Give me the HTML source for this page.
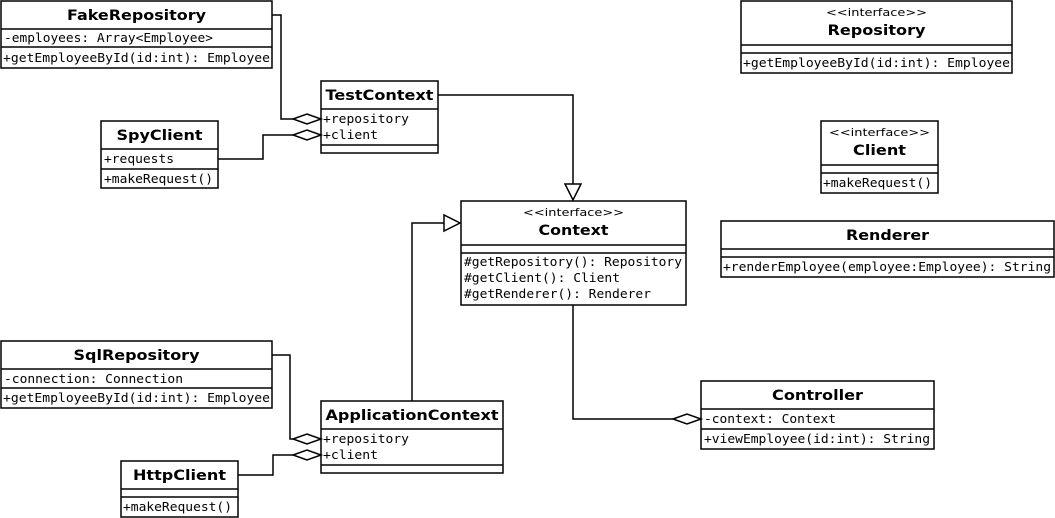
<!DOCTYPE html>
<html><head><meta charset="utf-8"><style>
html,body{margin:0;padding:0;background:#fff;}
svg{display:block}
.t{font-family:"DejaVu Sans","Liberation Sans",sans-serif;font-weight:bold;font-size:14px;text-anchor:middle}
.s{font-family:"DejaVu Sans","Liberation Sans",sans-serif;font-size:11px;text-anchor:middle}
.m{font-family:"DejaVu Sans Mono","Liberation Mono",monospace;font-size:12.5px}
rect,line,path,polyline{stroke:#000;stroke-width:1.5;fill:none}
</style></head><body>
<svg width="1055" height="518" viewBox="0 0 1055 518">
<rect x="0" y="0" width="1055" height="518" style="fill:#fff;stroke:none"/>
<!-- FakeRepository -->
<rect x="1" y="1" width="271" height="67"/><line x1="1" y1="29" x2="272" y2="29"/><line x1="1" y1="47" x2="272" y2="47"/>
<text class="t" x="136.5" y="20" textLength="139" lengthAdjust="spacingAndGlyphs">FakeRepository</text>
<text class="m" x="4" y="42" textLength="209" lengthAdjust="spacingAndGlyphs">-employees: Array&lt;Employee&gt;</text>
<text class="m" x="3" y="62" textLength="267" lengthAdjust="spacingAndGlyphs">+getEmployeeById(id:int): Employee</text>
<!-- TestContext -->
<rect x="321" y="81" width="117" height="72"/><line x1="321" y1="109" x2="438" y2="109"/><line x1="321" y1="145" x2="438" y2="145"/>
<text class="t" x="379.5" y="100" textLength="108" lengthAdjust="spacingAndGlyphs">TestContext</text>
<text class="m" x="323" y="123" textLength="86" lengthAdjust="spacingAndGlyphs">+repository</text>
<text class="m" x="323" y="139" textLength="55" lengthAdjust="spacingAndGlyphs">+client</text>
<!-- SpyClient -->
<rect x="101" y="121" width="117" height="67"/><line x1="101" y1="149" x2="218" y2="149"/><line x1="101" y1="169" x2="218" y2="169"/>
<text class="t" x="159.5" y="140" textLength="86" lengthAdjust="spacingAndGlyphs">SpyClient</text>
<text class="m" x="104" y="163" textLength="70" lengthAdjust="spacingAndGlyphs">+requests</text>
<text class="m" x="104" y="183" textLength="109" lengthAdjust="spacingAndGlyphs">+makeRequest()</text>
<!-- Repository -->
<rect x="741" y="1" width="271" height="72"/><line x1="741" y1="45" x2="1012" y2="45"/><line x1="741" y1="53" x2="1012" y2="53"/>
<text class="s" x="876.5" y="16" textLength="101" lengthAdjust="spacingAndGlyphs">&lt;&lt;interface&gt;&gt;</text>
<text class="t" x="876.5" y="35" textLength="98" lengthAdjust="spacingAndGlyphs">Repository</text>
<text class="m" x="743" y="67" textLength="267" lengthAdjust="spacingAndGlyphs">+getEmployeeById(id:int): Employee</text>
<!-- Client -->
<rect x="821" y="121" width="117" height="72"/><line x1="821" y1="165" x2="938" y2="165"/><line x1="821" y1="173" x2="938" y2="173"/>
<text class="s" x="879.5" y="136" textLength="101" lengthAdjust="spacingAndGlyphs">&lt;&lt;interface&gt;&gt;</text>
<text class="t" x="879.5" y="155" textLength="53" lengthAdjust="spacingAndGlyphs">Client</text>
<text class="m" x="823" y="187" textLength="109" lengthAdjust="spacingAndGlyphs">+makeRequest()</text>
<!-- Context -->
<rect x="461" y="201" width="225" height="104"/><line x1="461" y1="245" x2="686" y2="245"/><line x1="461" y1="253" x2="686" y2="253"/>
<text class="s" x="573.5" y="216" textLength="101" lengthAdjust="spacingAndGlyphs">&lt;&lt;interface&gt;&gt;</text>
<text class="t" x="573.5" y="235" textLength="70" lengthAdjust="spacingAndGlyphs">Context</text>
<text class="m" x="464" y="266" textLength="218" lengthAdjust="spacingAndGlyphs">#getRepository(): Repository</text>
<text class="m" x="464" y="282" textLength="156" lengthAdjust="spacingAndGlyphs">#getClient(): Client</text>
<text class="m" x="464" y="298" textLength="187" lengthAdjust="spacingAndGlyphs">#getRenderer(): Renderer</text>
<!-- Renderer -->
<rect x="721" y="221" width="333" height="56"/><line x1="721" y1="249" x2="1054" y2="249"/><line x1="721" y1="257" x2="1054" y2="257"/>
<text class="t" x="887.5" y="240" textLength="83" lengthAdjust="spacingAndGlyphs">Renderer</text>
<text class="m" x="723" y="271" textLength="328" lengthAdjust="spacingAndGlyphs">+renderEmployee(employee:Employee): String</text>
<!-- SqlRepository -->
<rect x="1" y="341" width="271" height="67"/><line x1="1" y1="369" x2="272" y2="369"/><line x1="1" y1="388" x2="272" y2="388"/>
<text class="t" x="136.5" y="360" textLength="126" lengthAdjust="spacingAndGlyphs">SqlRepository</text>
<text class="m" x="4" y="383" textLength="179" lengthAdjust="spacingAndGlyphs">-connection: Connection</text>
<text class="m" x="3" y="402" textLength="267" lengthAdjust="spacingAndGlyphs">+getEmployeeById(id:int): Employee</text>
<!-- ApplicationContext -->
<rect x="321" y="401" width="182" height="72"/><line x1="321" y1="429" x2="503" y2="429"/><line x1="321" y1="465" x2="503" y2="465"/>
<text class="t" x="412" y="420" textLength="173" lengthAdjust="spacingAndGlyphs">ApplicationContext</text>
<text class="m" x="323" y="443" textLength="86" lengthAdjust="spacingAndGlyphs">+repository</text>
<text class="m" x="323" y="459" textLength="55" lengthAdjust="spacingAndGlyphs">+client</text>
<!-- HttpClient -->
<rect x="121" y="461" width="117" height="56"/><line x1="121" y1="489" x2="238" y2="489"/><line x1="121" y1="497" x2="238" y2="497"/>
<text class="t" x="179.5" y="480" textLength="93" lengthAdjust="spacingAndGlyphs">HttpClient</text>
<text class="m" x="123" y="511" textLength="109" lengthAdjust="spacingAndGlyphs">+makeRequest()</text>
<!-- Controller -->
<rect x="701" y="381" width="233" height="68"/><line x1="701" y1="409" x2="934" y2="409"/><line x1="701" y1="429" x2="934" y2="429"/>
<text class="t" x="817.5" y="400" textLength="91" lengthAdjust="spacingAndGlyphs">Controller</text>
<text class="m" x="704" y="423" textLength="132" lengthAdjust="spacingAndGlyphs">-context: Context</text>
<text class="m" x="704" y="443" textLength="226" lengthAdjust="spacingAndGlyphs">+viewEmployee(id:int): String</text>
<!-- connectors -->
<polyline points="272,15 281,15 281,119 293,119"/>
<path d="M293,119 L307,114 L321,119 L307,124 Z" style="fill:#fff"/>
<polyline points="218,159 263,159 263,135 293,135"/>
<path d="M293,135 L307,130 L321,135 L307,140 Z" style="fill:#fff"/>
<polyline points="438,95 573,95 573,185"/>
<path d="M565,184 L581,184 L573,200 Z" style="fill:#fff"/>
<polyline points="412,401 412,223 445,223"/>
<path d="M444,215 L444,231 L460,223 Z" style="fill:#fff"/>
<polyline points="272,355 290,355 290,439 293,439"/>
<path d="M293,439 L307,434 L321,439 L307,444 Z" style="fill:#fff"/>
<polyline points="238,475 273,475 273,455 293,455"/>
<path d="M293,455 L307,450 L321,455 L307,460 Z" style="fill:#fff"/>
<polyline points="573,305 573,419 673,419"/>
<path d="M673,419 L687,414 L701,419 L687,424 Z" style="fill:#fff"/>
</svg>
</body></html>
